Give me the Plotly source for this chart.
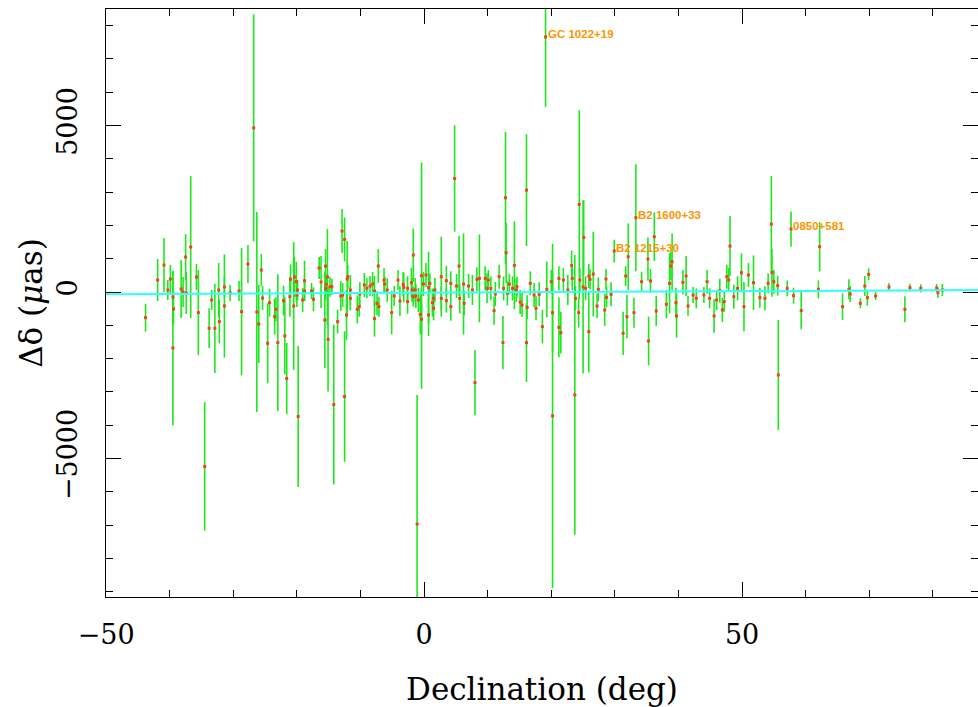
import plotly.graph_objects as go

# Declination (deg), delta-declination (micro-arcsec), 1-sigma error (micro-arcsec)
dec = [-43.8, -41.9, -40.9, -40.3, -39.9, -39.5, -39.5, -39.4, -38.2, -37.9,
       -37.5, -37.4, -36.7, -35.8, -35.5, -34.5, -33.8, -33.4, -32.9, -32.3,
       -32.2, -31.4, -31.4, -30.5, -29.1, -28.7, -27.7, -26.8, -26.3, -26.0,
       -25.6, -25.4, -24.6, -24.3, -23.5, -23.3, -23.0, -22.1, -21.9, -21.6,
       -21.1, -21.0, -20.5, -20.4, -20.1, -20.0, -19.9, -19.8, -19.1, -18.8,
       -18.8, -17.7, -17.4, -16.5, -16.2, -15.6, -15.5, -15.5, -15.4, -15.2,
       -15.1, -14.8, -14.5, -14.2, -13.6, -13.1, -12.9, -12.8, -12.5, -12.5,
       -12.2, -12.1, -12.0, -11.6, -11.6, -10.5, -10.2, -10.1, -9.4, -9.0,
       -8.5, -8.1, -7.8, -7.8, -7.4, -7.2, -7.1, -6.3, -6.2, -5.8,
       -5.1, -4.7, -4.1, -3.8, -3.3, -3.2, -2.6, -2.6, -2.0, -1.9,
       -1.7, -1.7, -1.4, -1.3, -1.1, -0.9, -0.6, -0.4, -0.4, -0.1,
       0.3, 0.7, 0.7, 0.9, 1.3, 1.5, 1.7, 1.5, 2.7, 2.7,
       3.5, 3.5, 4.2, 4.2, 4.8, 5.1, 5.5, 5.6, 6.2, 6.3,
       7.0, 7.6, 8.0, 8.3, 8.7, 9.6, 9.9, 10.1, 10.5, 11.0,
       11.2, 11.8, 12.4, 12.5, 12.8, 12.9, 13.1, 13.4, 13.9, 14.2,
       14.5, 14.6, 15.1, 15.4, 16.1, 16.1, 16.2, 16.7, 17.3, 17.6,
       18.1, 18.6, 19.1, 19.3, 20.0, 20.2, 20.2, 21.2, 21.2, 21.5,
       21.9, 22.6, 23.2, 23.3, 23.7, 23.8, 24.3, 24.4, 24.5, 25.0,
       25.1, 25.4, 25.9, 25.9, 26.1, 26.6, 27.2, 27.4, 28.4, 28.6,
       28.7, 29.4, 29.9, 31.3, 31.7, 31.9, 32.1, 33.0, 33.3, 34.2,
       35.2, 35.3, 35.6, 36.2, 36.5, 38.1, 38.6, 38.8, 39.0, 39.6,
       39.7, 40.7, 41.2, 41.5, 42.3, 42.8, 44.0, 44.5, 44.9, 45.6,
       46.0, 46.5, 46.9, 47.2, 47.6, 48.1, 47.9, 48.7, 49.3, 49.9,
       50.3, 51.0, 51.8, 52.8, 53.6, 54.1, 54.6, 54.7, 55.0, 55.6,
       55.7, 57.1, 57.7, 58.1, 59.3, 62.0, 62.2, 65.8, 66.8, 67.0,
       68.6, 69.3, 69.7, 69.9, 71.0, 73.1, 75.6, 76.4, 78.1, 80.6,
       80.8, 81.5]

ddec = [-770, 360, 810, 60, 390, -150, -1680, -510, 90, 0,
        1050, -30, 1350, 450, -620, -5240, -1090, -240, -1090, 60,
        -890, 150, -420, -30, 30, -590, 840, 4930, -600, -960,
        660, -180, -1540, -320, -740, -520, -1520, -260, -1320, -2600,
        -140, 380, -420, 450, 310, -90, 60, -3740, -240, 340,
        30, 30, -220, 720, 300, -840, 780, 110, 230, 450,
        -1420, 160, 160, -3380, -890, -120, 1830, -90, 1580, -3140,
        -690, 390, 460, 60, -190, -520, -440, -60, 210, 110,
        180, 240, -800, 30, -340, 780, -440, 360, 240, 60,
        -620, -120, 360, -270, 230, 140, -290, 110, 280, 60,
        1110, -140, 60, -120, -6970, -240, -670, 490, -820, 240,
        510, 130, -690, 260, -320, -190, 60, -490, 460, -190,
        340, -260, -440, 260, 3410, 180, 780, -190, 240, -340,
        180, 60, -2720, 380, 410, 410, 110, 360, 110, -560,
        -60, 460, -1520, 110, 2830, 1180, -40, 240, 110, 800,
        60, 160, -300, -390, 3060, -1520, -460, 260, -90, -490,
        -70, -1040, 7660, 80, 310, -620, -3720, 410, -1060, -1220,
        360, 60, 800, 410, -3090, -190, -620, 2630, 360, 150,
        1640, 110, -1190, 480, 380, 540, -420, 80, -540, 390,
        -160, -70, 1230, -1240, 480, -740, 1060, -620, 2230, 310,
        990, -1470, 330, 1660, -570, -370, 260, 780, 910, -320,
        -720, 290, 480, -420, -90, -190, -90, 310, -190, -720,
        -240, 40, -540, -290, 460, 1380, 360, -140, 110, 580,
        -440, 510, 280, -170, -190, 260, 2040, 580, 310, 190,
        -2490, 110, 1890, -110, -560, 80, 1360, -440, 80, -60,
        -340, 180, -170, 530, -120, 150, -520, 130, 110, 120,
        -20, 60]

err = [420, 630, 810, 300, 420, 780, 2320, 450, 870, 450,
       690, 630, 2130, 390, 1280, 1930, 600, 300, 1340, 810,
       650, 300, 1550, 240, 300, 1910, 570, 3410, 3000, 1170,
       480, 360, 1200, 420, 540, 360, 2050, 450, 1160, 1070,
       600, 450, 1920, 600, 600, 360, 300, 2115, 360, 600,
       300, 240, 360, 330, 780, 1450, 510, 360, 300, 1440,
       1570, 300, 240, 2400, 360, 450, 660, 360, 660, 1960,
       750, 1140, 360, 450, 360, 420, 300, 360, 360, 300,
       300, 360, 540, 450, 360, 510, 300, 360, 240, 360,
       650, 300, 300, 450, 360, 450, 360, 360, 450, 360,
       800, 300, 360, 360, 3880, 360, 600, 3400, 450, 360,
       360, 1080, 630, 300, 420, 300, 360, 360, 1200, 360,
       450, 360, 420, 360, 1600, 360, 900, 450, 1520, 360,
       360, 450, 980, 360, 1320, 360, 450, 300, 360, 420,
       360, 360, 800, 360, 1980, 900, 360, 300, 360, 1320,
       360, 300, 360, 360, 1680, 1185, 360, 360, 360, 360,
       360, 500, 2100, 840, 360, 1200, 5170, 360, 900, 630,
       360, 450, 450, 360, 4200, 360, 450, 2830, 360, 2600,
       1120, 360, 1230, 360, 300, 1270, 360, 360, 480, 300,
       300, 360, 340, 650, 300, 650, 1000, 450, 1610, 300,
       650, 730, 360, 730, 450, 420, 900, 420, 850, 450,
       650, 360, 600, 300, 240, 300, 240, 360, 300, 500,
       300, 360, 360, 300, 360, 900, 360, 360, 360, 585,
       740, 360, 820, 300, 360, 300, 1440, 720, 360, 300,
       1650, 240, 530, 240, 560, 270, 740, 400, 300, 240,
       150, 300, 240, 180, 120, 120, 390, 120, 120, 120,
       150, 180]

# linear fit line
fit_dec = [-50, 87.1]
fit_ddec = [-69, 58]

# labelled sources
lab_names = ["GC 1022+19", "B2 1600+33", "B2 1215+30", "0850+581"]
lab_dec = [19.1, 33.3, 29.9, 57.7]
lab_ddec = [7660, 2230, 1230, 1890]

fig = go.Figure()
fig.add_trace(go.Scatter(
    x=dec, y=ddec, mode="markers",
    marker=dict(symbol="square", size=3, color="#ff3a20", line=dict(width=0)),
    error_y=dict(type="data", array=err, visible=True, color="#1aea1a",
                 thickness=1.6, width=0),
    showlegend=False, hoverinfo="skip"))
fig.add_trace(go.Scatter(
    x=fit_dec, y=fit_ddec, mode="lines",
    line=dict(color="#33ffff", width=2), showlegend=False, hoverinfo="skip"))

for n, xv, yv in zip(lab_names, lab_dec, lab_ddec):
    fig.add_annotation(x=xv, y=yv, text=n, showarrow=False, xanchor="left",
                       yanchor="middle", yshift=3,
                       font=dict(family="Liberation Sans", size=11.5,
                                 color="#ff9400", weight="bold"))

tickfont = dict(family="DejaVu Serif", size=27, color="black")
fig.update_xaxes(
    range=[-50.02, 87.1], tickvals=[-50, 0, 50], ticktext=["\u221250", "0", "50"],
    ticks="inside", ticklen=15, tickwidth=1, tickcolor="black",
    minor=dict(dtick=10, ticks="inside", ticklen=7, tickwidth=1, tickcolor="black"),
    showline=True, linecolor="black", linewidth=1, mirror="allticks",
    showgrid=False, zeroline=False, tickfont=tickfont, ticklabelstandoff=14,
    automargin=False,
    title=dict(text="Declination (deg)",
               font=dict(family="DejaVu Serif", size=31, color="black"),
               standoff=30))
fig.update_yaxes(
    range=[-9160, 8500], tickvals=[-5000, 0, 5000],
    ticktext=["\u22125000", "0", "5000"], tickangle=-90,
    ticks="inside", ticklen=15, tickwidth=1, tickcolor="black",
    minor=dict(dtick=1000, ticks="inside", ticklen=7, tickwidth=1, tickcolor="black"),
    showline=True, linecolor="black", linewidth=1, mirror="allticks",
    showgrid=False, zeroline=False, tickfont=tickfont, ticklabelstandoff=17,
    automargin=False,
    title=dict(text="\u0394\u03b4 (<i>\u03bc</i>as)",
               font=dict(family="DejaVu Serif", size=31, color="black"),
               standoff=0))
fig.update_layout(
    width=978, height=707, margin=dict(l=106, r=0, t=9, b=110),
    plot_bgcolor="white", paper_bgcolor="white")
fig.write_html(
    "out.html", config={"responsive": False, "displayModeBar": False},
    post_script="document.documentElement.style.overflow='hidden';"
                "document.body.style.margin='0';"
                "document.body.style.overflow='hidden';")
